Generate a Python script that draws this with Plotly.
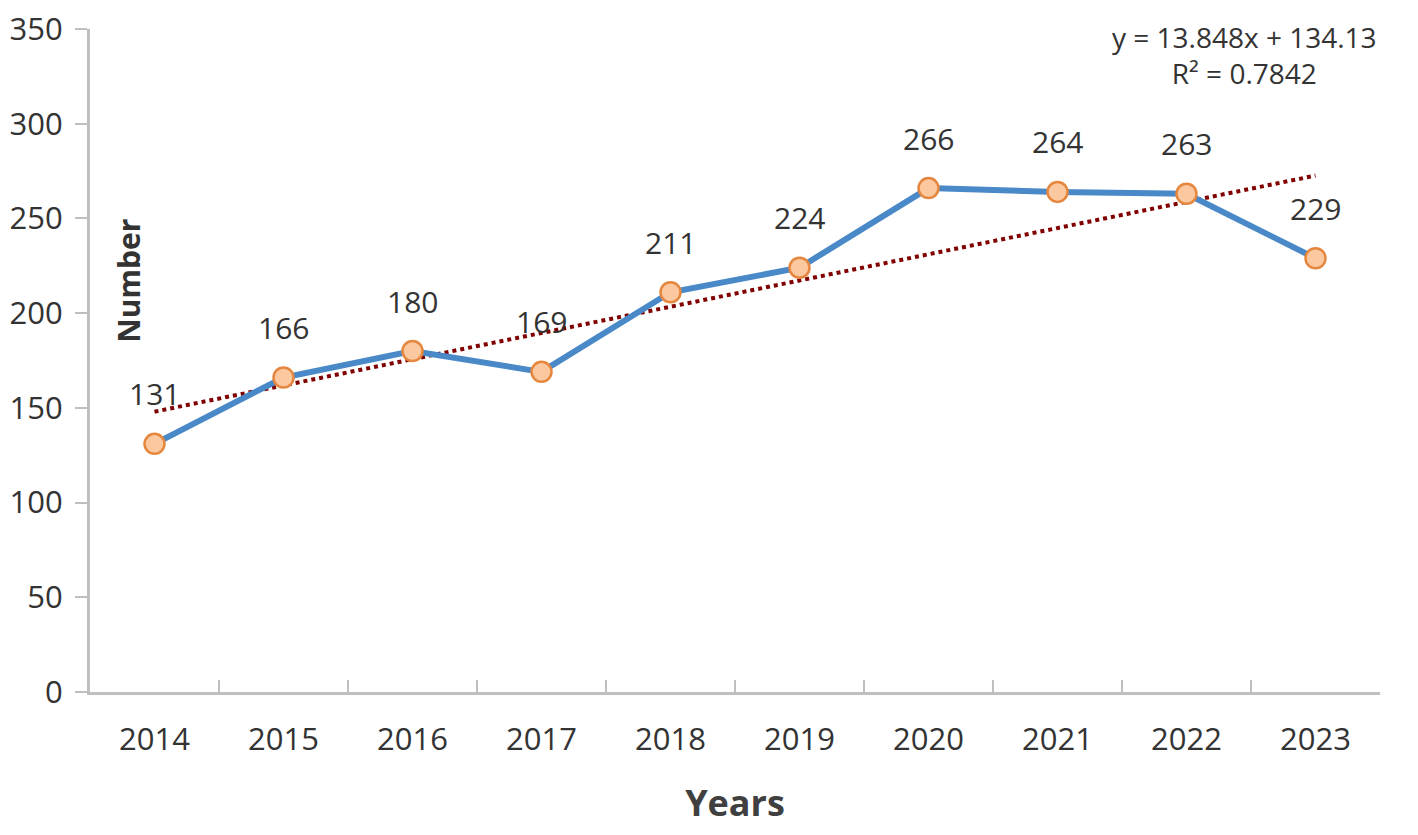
import numpy as np
import plotly.graph_objects as go

# dati
years = ['2014', '2015', '2016', '2017', '2018', '2019', '2020', '2021', '2022', '2023']
counts = [131, 166, 180, 169, 211, 224, 266, 264, 263, 229]
y_ticks = [0, 50, 100, 150, 200, 250, 300, 350]

# retta di tendenza lineare (come in Excel, x = 1..n)
xi = np.arange(1, len(counts) + 1)
slope, intercept = np.polyfit(xi, counts, 1)
trend = slope * xi + intercept
r2 = np.corrcoef(xi, counts)[0, 1] ** 2

FONT = 'Open Sans'
TXT = '#333333'
AX = '#BFBFBF'

fig = go.Figure()

fig.add_trace(go.Scatter(
    x=years, y=trend, mode='lines',
    line=dict(color='#800000', width=4, dash='dot'),
    showlegend=False, hoverinfo='skip'
))

fig.add_trace(go.Scatter(
    x=years, y=counts, mode='lines+markers',
    line=dict(color='#4A89C8', width=6),
    marker=dict(size=20, color='#FBC8A0', line=dict(color='#E5873F', width=2.5)),
    showlegend=False
))

# etichette sopra i punti (su asse categorico x = indice)
for i, v in enumerate(counts):
    fig.add_annotation(x=i, y=v, text=str(v), showarrow=False, yshift=50,
                       font=dict(family=FONT, size=30, color=TXT))

# equazione e R2
fig.add_annotation(xref='paper', yref='paper', x=1.0, y=1.0, xanchor='right', yanchor='top',
                   yshift=13, xshift=-1,
                   text=f'y = {slope:.3f}x + {intercept:.2f}<br>R² = {r2:.4f}',
                   showarrow=False, align='center',
                   font=dict(family=FONT, size=28, color=TXT))

# titolo asse y dentro l'area del grafico
fig.add_annotation(xref='paper', yref='y', x=0.03, y=217, textangle=-90,
                   text='Number', showarrow=False, xanchor='center', yanchor='middle',
                   font=dict(family=FONT, size=30, color=TXT, weight='bold'))

fig.update_xaxes(
    type='category', range=[-0.5, len(years) - 0.5], autorange=False,
    tickson='boundaries', ticks='inside', ticklen=12, tickwidth=2,
    tickcolor=AX, showline=True, linecolor=AX, linewidth=3, showgrid=False,
    tickfont=dict(family=FONT, size=31, color=TXT), ticklabelstandoff=18, tickangle=0,
    title=dict(text='<b>Years</b>', font=dict(family=FONT, size=36, color='#404040'), standoff=33),
    automargin=False
)
fig.update_yaxes(
    range=[0, 350], tickvals=y_ticks, ticks='outside', ticklen=12, tickwidth=2,
    tickcolor=AX, showline=True, linecolor=AX, linewidth=3, showgrid=False, zeroline=False,
    tickfont=dict(family=FONT, size=31, color=TXT), ticklabelstandoff=6,
    ticklabeloverflow='allow', automargin=False
)

# la pagina ha un margine di 8px: figura un po' piu' piccola
fig.update_layout(
    width=1402, height=819,
    margin=dict(l=82, r=30, t=21, b=135),
    plot_bgcolor='white', paper_bgcolor='white',
)

fig.write_html('out.html')
